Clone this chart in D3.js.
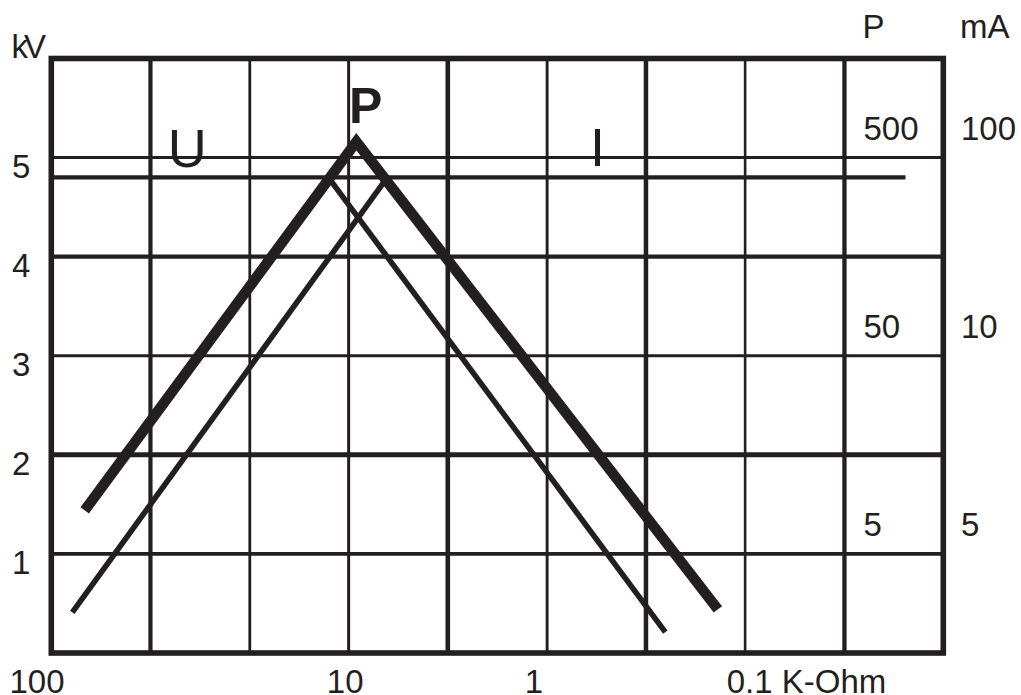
<!DOCTYPE html>
<html>
<head>
<meta charset="utf-8">
<script src="https://cdn.jsdelivr.net/npm/d3@7/dist/d3.min.js"></script>
<style>
  html, body { margin: 0; padding: 0; background: #ffffff; }
  svg { display: block; }
  text { font-family: "Liberation Sans", Arial, sans-serif; fill: #231f20; }
</style>
</head>
<body>
<svg id="chart" width="1021" height="695"></svg>
<script>
// ---------------- data ----------------
// resistance (K-Ohm) positions of the vertical grid lines (log, 3 per decade)
const resistanceGrid = [100, 46.4, 21.5, 10, 4.64, 2.15, 1, 0.464, 0.215, 0.1];
// kV levels of the horizontal grid lines
const kvGrid = [1, 2, 3, 4, 5];
const kvLabels = ["1", "2", "3", "4", "5"];
// bottom axis
const xTickValues = [100, 10, 1, 0.1];
const xTickLabels = ["100", "10", "1", "0.1 K-Ohm"];
// right-hand scales (P and mA), placed on kV levels
const rightTickLevels = [5, 3, 1];
const pTickLabels = ["500", "50", "5"];
const mATickLabels = ["100", "10", "5"];
// curves (resistance in K-Ohm, value on kV grid)
const powerR = [77.2, 9.42, 0.573];
const powerV = [1.44, 5.16, 0.44];
const riseR = [85, 7.41];
const riseV = [0.41, 4.8];
const fallR = [11.7, 0.861];
const fallV = [4.8, 0.21];
const voltR = [100, 0.134];
const voltV = [4.8, 4.8];

// ---------------- layout / style ----------------
const INK = "#231f20";
const svg = d3.select("#chart");
const x = d3.scaleLog().domain([100, 0.1]).range([51.3, 943.3]);
const y = d3.scaleLinear().domain([0, 6]).range([653, 58.5]);

const vGridWidth = [0, 4.2, 2.8, 3, 4.6, 2.9, 4.5, 2.6, 4.3, 0];
const hGridWidth = [3.8, 5, 3, 4.3, 3];
const xLabelNudge = [-41.8, -21.8, -121.2, -216.6];

const gGrid = svg.append("g");
gGrid.selectAll("line.v")
  .data(resistanceGrid)
  .join("line")
  .attr("class", "v")
  .attr("x1", d => x(d)).attr("x2", d => x(d))
  .attr("y1", y(6)).attr("y2", y(0))
  .attr("stroke", INK)
  .attr("stroke-width", (d, i) => vGridWidth[i]);

gGrid.selectAll("line.h")
  .data(kvGrid)
  .join("line")
  .attr("class", "h")
  .attr("x1", x(100)).attr("x2", x(0.1))
  .attr("y1", d => y(d)).attr("y2", d => y(d))
  .attr("stroke", INK)
  .attr("stroke-width", (d, i) => hGridWidth[i]);

// frame
svg.append("rect")
  .attr("x", x(100)).attr("y", y(6))
  .attr("width", x(0.1) - x(100))
  .attr("height", y(0) - y(6))
  .attr("fill", "none")
  .attr("stroke", INK)
  .attr("stroke-width", 5.6);

// curves
const line = d3.line().x(d => x(d[0])).y(d => y(d[1]));
const curves = [
  { r: voltR, v: voltV, w: 4.4 },
  { r: riseR, v: riseV, w: 5.6 },
  { r: fallR, v: fallV, w: 5.6 },
  { r: powerR, v: powerV, w: 10.5 }
];
svg.append("g").selectAll("path")
  .data(curves)
  .join("path")
  .attr("d", c => line(c.r.map((r, i) => [r, c.v[i]])))
  .attr("fill", "none")
  .attr("stroke", INK)
  .attr("stroke-width", c => c.w)
  .attr("stroke-linecap", "butt")
  .attr("stroke-linejoin", "miter");

// left axis labels
svg.append("g").selectAll("text")
  .data(kvGrid)
  .join("text")
  .attr("x", 12)
  .attr("y", d => y(d) + 20)
  .attr("font-size", 33)
  .text((d, i) => kvLabels[i]);

svg.append("text")
  .attr("x", 11.5).attr("y", 58)
  .attr("font-size", 33)
  .attr("letter-spacing", -4)
  .text("kV");

// bottom axis labels
svg.append("g").selectAll("text")
  .data(xTickValues)
  .join("text")
  .attr("x", (d, i) => x(d) + xLabelNudge[i])
  .attr("y", 692.5)
  .attr("font-size", 33)
  .text((d, i) => xTickLabels[i]);

// right-hand labels
svg.append("text").attr("x", 862.5).attr("y", 38).attr("font-size", 33).text("P");
svg.append("text").attr("x", 960).attr("y", 38).attr("font-size", 33).text("mA");

svg.append("g").selectAll("text")
  .data(rightTickLevels)
  .join("text")
  .attr("x", 863.5)
  .attr("y", d => y(d) - 18)
  .attr("font-size", 33)
  .text((d, i) => pTickLabels[i]);

svg.append("g").selectAll("text")
  .data(rightTickLevels)
  .join("text")
  .attr("x", 961)
  .attr("y", d => y(d) - 18)
  .attr("font-size", 33)
  .text((d, i) => mATickLabels[i]);

// curve names
svg.append("text").attr("x", 167.7).attr("y", 166.5).attr("font-size", 54).text("U");
svg.append("text").attr("x", 590).attr("y", 166).attr("font-size", 54).text("I");
svg.append("text").attr("x", 349).attr("y", 123).attr("font-size", 50).attr("font-weight", "bold").text("P");
</script>
</body>
</html>
